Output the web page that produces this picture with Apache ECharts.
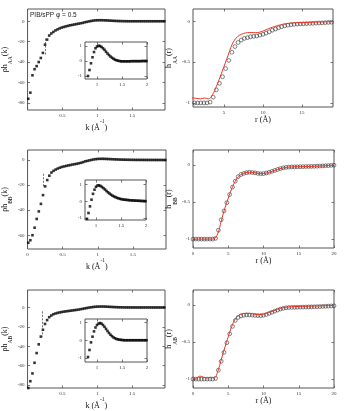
<!DOCTYPE html>
<html>
<head>
<meta charset="utf-8">
<script src="https://cdn.jsdelivr.net/npm/echarts@6/dist/echarts.min.js"></script>
<style>
  html, body { margin: 0; padding: 0; background: #fff; }
  #chart { width: 348px; height: 411px; }
</style>
</head>
<body>
<div id="chart"></div>
<script>
// k grid (1/Å) of the structure-factor panels
const kGrid = [0.01, 0.04, 0.07, 0.10, 0.13, 0.16, 0.19, 0.22, 0.25, 0.28, 0.31, 0.34, 0.37, 0.40, 0.43, 0.46, 0.49,
  0.52, 0.55, 0.58, 0.61, 0.64, 0.67, 0.70, 0.73, 0.76, 0.79, 0.82, 0.85, 0.88, 0.91, 0.94, 0.97, 1.00, 1.03, 1.06,
  1.09, 1.12, 1.15, 1.18, 1.21, 1.24, 1.27, 1.30, 1.33, 1.36, 1.39, 1.42, 1.45, 1.48, 1.51, 1.54, 1.57, 1.60, 1.63,
  1.66, 1.69, 1.72, 1.75, 1.78, 1.81, 1.84, 1.87, 1.90, 1.93, 1.96, 1.99];

const rhoAA = [-76, -70, -53, -47, -44, -40, -36, -31, -23, -18, -14, -12, -10.5, -9, -8, -7, -6.2, -5.6, -5, -4.5,
  -4, -3.6, -3.2, -2.8, -2.4, -2.0, -1.6, -1.0, -0.6, -0.15, 0.25, 0.6, 0.85, 0.97, 1.02, 1.0, 0.94, 0.85, 0.75,
  0.62, 0.5, 0.4, 0.3, 0.22, 0.15, 0.09, 0.05, 0.02, 0.0, -0.02, -0.02, -0.02, -0.02, -0.02, -0.02, -0.02, -0.01,
  -0.01, -0.01, -0.01, -0.01, -0.01, -0.01, 0, 0, 0, 0];

const rhoBB = [-66, -64, -60, -54, -47, -41, -35, -28, -21, -16, -12.5, -10, -8.6, -7.6, -6.8, -6.1, -5.5, -5.1,
  -4.7, -4.3, -4.0, -3.6, -3.3, -3.0, -2.6, -2.2, -1.7, -1.05, -0.7, -0.3, 0.1, 0.45, 0.7, 0.87, 0.95, 0.96, 0.92,
  0.86, 0.79, 0.71, 0.62, 0.54, 0.47, 0.4, 0.34, 0.29, 0.25, 0.21, 0.18, 0.15, 0.13, 0.11, 0.1, 0.09, 0.08, 0.07,
  0.06, 0.055, 0.05, 0.045, 0.04, 0.035, 0.03, 0.025, 0.02, 0.015, 0.01];

const rhoAB = [-83, -76, -68, -57, -47, -38, -30, -23, -17, -13, -10, -8.3, -7, -6.2, -5.6, -5.1, -4.7, -4.3, -4.0,
  -3.7, -3.4, -3.1, -2.8, -2.5, -2.2, -1.8, -1.4, -0.95, -0.55, -0.12, 0.2, 0.5, 0.72, 0.86, 0.94, 0.97, 0.94, 0.86,
  0.76, 0.64, 0.52, 0.41, 0.31, 0.23, 0.16, 0.11, 0.07, 0.05, 0.03, 0.02, 0.01, 0, 0, 0, 0, 0, 0, 0, 0, 0, 0, 0, 0,
  0, 0, 0, 0];

// dashed vertical markers [k, top, bottom]
const dashAA = [0.25, -17, -34];
const dashBB = [0.22, -11, -22];
const dashAB = [0.21, -4, -30];

// r grids (Å) of the pair-correlation panels
const rCircAA = [1.2, 1.6, 2.0, 2.4, 2.8, 3.2, 3.6, 4.0, 4.4, 4.8, 5.2, 5.6, 6.0, 6.4, 6.8, 7.2, 7.6, 8.0, 8.4, 8.8,
  9.2, 9.6, 10.0, 10.4, 10.8, 11.2, 11.6, 12.0, 12.4, 12.8, 13.2, 13.6, 14.0, 14.4, 14.8, 15.2, 15.6, 16.0, 16.4,
  16.8, 17.2, 17.6, 18.0, 18.4, 18.8];
const hCircAA = [-1.0, -1.0, -1.0, -1.0, -1.0, -0.99, -0.93, -0.84, -0.76, -0.68, -0.58, -0.48, -0.38, -0.31, -0.26,
  -0.23, -0.21, -0.2, -0.19, -0.185, -0.18, -0.17, -0.16, -0.145, -0.13, -0.11, -0.095, -0.08, -0.067, -0.056,
  -0.048, -0.042, -0.038, -0.035, -0.033, -0.031, -0.029, -0.027, -0.025, -0.023, -0.021, -0.019, -0.017, -0.014,
  -0.012];

const rCirc = [0, 0.4, 0.8, 1.2, 1.6, 2.0, 2.4, 2.8, 3.2, 3.6, 4.0, 4.4, 4.8, 5.2, 5.6, 6.0, 6.4, 6.8, 7.2, 7.6, 8.0,
  8.4, 8.8, 9.2, 9.6, 10.0, 10.4, 10.8, 11.2, 11.6, 12.0, 12.4, 12.8, 13.2, 13.6, 14.0, 14.4, 14.8, 15.2, 15.6, 16.0,
  16.4, 16.8, 17.2, 17.6, 18.0, 18.4, 18.8, 19.2, 19.6, 20.0];
const hCircBB = [-1.0, -1.0, -1.0, -1.0, -1.0, -1.0, -1.0, -1.0, -0.99, -0.88, -0.74, -0.62, -0.51, -0.4, -0.3, -0.22,
  -0.16, -0.13, -0.115, -0.105, -0.1, -0.102, -0.108, -0.115, -0.12, -0.118, -0.11, -0.1, -0.088, -0.075, -0.062,
  -0.05, -0.04, -0.034, -0.03, -0.028, -0.027, -0.026, -0.025, -0.024, -0.023, -0.022, -0.021, -0.02, -0.018,
  -0.016, -0.014, -0.012, -0.01, -0.007, -0.005];
const hCircAB = [-1.0, -1.0, -1.0, -1.0, -1.0, -1.0, -1.0, -1.0, -0.99, -0.88, -0.76, -0.64, -0.51, -0.39, -0.29,
  -0.21, -0.17, -0.15, -0.14, -0.135, -0.135, -0.138, -0.142, -0.145, -0.145, -0.14, -0.13, -0.115, -0.1, -0.085,
  -0.07, -0.057, -0.047, -0.04, -0.036, -0.034, -0.033, -0.032, -0.031, -0.03, -0.029, -0.028, -0.027, -0.026,
  -0.025, -0.023, -0.021, -0.019, -0.017, -0.015, -0.013];

const rLine = [0, 0.5, 1, 1.5, 2, 2.5, 3, 3.5, 4, 4.5, 5, 5.5, 6, 6.5, 7, 7.5, 8, 8.5, 9, 9.5, 10, 10.5, 11, 11.5,
  12, 12.5, 13, 13.5, 14, 14.5, 15, 15.5, 16, 16.5, 17, 17.5, 18, 18.5, 19, 19.5, 20];
const hLineAA = [-0.94, -0.94, -0.94, -0.945, -0.95, -0.94, -0.95, -0.9, -0.8, -0.68, -0.55, -0.42, -0.29, -0.21,
  -0.17, -0.15, -0.14, -0.138, -0.14, -0.135, -0.12, -0.1, -0.08, -0.065, -0.05, -0.038, -0.03, -0.024, -0.02,
  -0.018, -0.017, -0.015, -0.014, -0.012, -0.01, -0.009, -0.007, -0.006, -0.005, -0.004, -0.003];
const hLineBB = [-1.0, -1.0, -1.0, -1.0, -1.0, -1.0, -0.995, -0.93, -0.76, -0.59, -0.45, -0.32, -0.22, -0.155, -0.12,
  -0.105, -0.1, -0.103, -0.11, -0.118, -0.117, -0.108, -0.095, -0.078, -0.062, -0.048, -0.038, -0.031, -0.028,
  -0.026, -0.025, -0.024, -0.023, -0.022, -0.02, -0.018, -0.016, -0.013, -0.01, -0.007, -0.004];
const hLineAB = [-1.0, -0.985, -0.96, -0.975, -0.985, -0.975, -0.985, -0.9, -0.74, -0.58, -0.43, -0.29, -0.19, -0.14,
  -0.12, -0.115, -0.117, -0.122, -0.128, -0.13, -0.125, -0.11, -0.095, -0.078, -0.06, -0.045, -0.035, -0.028,
  -0.025, -0.023, -0.022, -0.021, -0.02, -0.018, -0.017, -0.015, -0.013, -0.012, -0.01, -0.009, -0.008];

const SERIF = 'Liberation Serif';
const FRAME = '#555';

const grids = [], xAxes = [], yAxes = [], series = [];

// one framed panel, with inward ticks mirrored on top and right
function addPanel(box, xr, xTicks, xLabels, yr, yTicks, yLabels, names) {
  const g = grids.length;
  grids.push({
    left: box[0], top: box[1], width: box[2], height: box[3],
    show: true, borderColor: FRAME, borderWidth: 1, backgroundColor: '#fff'
  });
  ['bottom', 'top'].forEach((pos, j) => xAxes.push({
    type: 'value', gridIndex: g, position: pos, min: xr[0], max: xr[1],
    axisLine: { show: false, onZero: false },
    axisTick: { show: true, inside: true, length: 2.5, customValues: xTicks, lineStyle: { color: FRAME, width: 0.8 } },
    axisLabel: { show: j === 0, customValues: xLabels, fontSize: 5, margin: 3, color: '#333', fontFamily: SERIF },
    splitLine: { show: false },
    name: j === 0 && names ? names.x : '',
    nameLocation: 'middle', nameGap: names ? names.xGap : 0,
    nameTextStyle: names ? names.xStyle : {}
  }));
  ['left', 'right'].forEach((pos, j) => yAxes.push({
    type: 'value', gridIndex: g, position: pos, min: yr[0], max: yr[1],
    axisLine: { show: false, onZero: false },
    axisTick: { show: true, inside: true, length: 2.5, customValues: yTicks, lineStyle: { color: FRAME, width: 0.8 } },
    axisLabel: { show: j === 0, customValues: yLabels, fontSize: 5, margin: 3, color: '#333', fontFamily: SERIF },
    splitLine: { show: false },
    name: j === 0 && names ? names.y : '',
    nameLocation: 'middle', nameGap: names ? names.yGap : 0,
    nameTextStyle: names ? names.yStyle : {}
  }));
  return { x: xAxes.length - 2, y: yAxes.length - 2 };
}

const nameRich = {
  n: { fontSize: 8, fontFamily: SERIF, color: '#111', lineHeight: 10, verticalAlign: 'top' },
  s: { fontSize: 5.5, fontFamily: SERIF, color: '#111', lineHeight: 13, verticalAlign: 'bottom' }
};
const supRich = {
  n: { fontSize: 8, fontFamily: SERIF, color: '#111', lineHeight: 10, verticalAlign: 'bottom' },
  p: { fontSize: 5.5, fontFamily: SERIF, color: '#111', lineHeight: 13, verticalAlign: 'top' }
};

function kNames(sub) {
  return {
    x: '{n|k (Å}{p|-1}{n|)}', xGap: 6, xStyle: { rich: supRich },
    y: '{n|ρh}{s|' + sub + '}{n|(k)}', yGap: 12, yStyle: { rich: nameRich }
  };
}
function rNames(sub) {
  return {
    x: '{n|r (Å)}', xGap: 6, xStyle: { rich: supRich },
    y: '{n|h}{s|' + sub + '}{n|(r)}', yGap: 10, yStyle: { rich: nameRich }
  };
}

function squares(ax, ys, dash) {
  const s = {
    type: 'scatter', xAxisIndex: ax.x, yAxisIndex: ax.y,
    data: kGrid.map((k, i) => [k, ys[i]]),
    symbol: 'rect', symbolSize: 2.6, itemStyle: { color: '#000' }, clip: true, silent: true
  };
  if (dash) {
    s.markLine = {
      silent: true, symbol: 'none', label: { show: false },
      lineStyle: { type: [2, 1.5], color: '#333', width: 0.7 },
      data: [[{ coord: [dash[0], dash[1]] }, { coord: [dash[0], dash[2]] }]]
    };
  }
  series.push(s);
}
function circlesAndLine(ax, rc, hc, hl) {
  series.push({
    type: 'line', xAxisIndex: ax.x, yAxisIndex: ax.y,
    data: rLine.map((r, i) => [r, hl[i]]),
    smooth: 0.4, showSymbol: false, lineStyle: { color: '#ee3322', width: 1 }, clip: true, silent: true
  });
  series.push({
    type: 'scatter', xAxisIndex: ax.x, yAxisIndex: ax.y,
    data: rc.map((r, i) => [r, hc[i]]),
    symbol: 'circle', symbolSize: 3.8,
    itemStyle: { color: 'rgba(255,255,255,0)', borderColor: '#222', borderWidth: 0.7 }, clip: true, silent: true
  });
}

// left column: rho h(k) with insets
const kLab = [0.5, 1, 1.5];
const kTick = [0, 0.5, 1, 1.5];
const insX = [1, 1.5, 2];
const insY = [-1, 0, 1];

const tl = addPanel([24, 9, 141, 101], [0, 1.97], kTick, kLab, [-87, 12], [-80, -60, -40, -20, 0], [-80, -60, -40, -20, 0], kNames('AA'));
squares(tl, rhoAA, dashAA);
const ml = addPanel([24, 150, 142, 99], [0, 1.97], kTick, [0, 0.5, 1, 1.5], [-71, 8], [-60, -40, -20, 0], [-60, -40, -20, 0], kNames('BB'));
squares(ml, rhoBB, dashBB);
const bl = addPanel([24, 290, 141, 98], [0, 1.97], kTick, kLab, [-83, 18], [-80, -60, -40, -20, 0], [-80, -60, -40, -20, 0], kNames('AB'));
squares(bl, rhoAB, dashAB);

const tli = addPanel([85, 42, 62, 37], [0.76, 2], insX, insX, [-1.2, 1.27], insY, insY, null);
squares(tli, rhoAA, null);
const mli = addPanel([85, 180, 61, 40], [0.78, 2], insX, insX, [-1.12, 1.28], insY, insY, null);
squares(mli, rhoBB, null);
const bli = addPanel([85, 319, 62, 43], [0.76, 2], insX, insX, [-1.23, 1.2], insY, insY, null);
squares(bli, rhoAB, null);

// right column: h(r)
const rTick = [0, 5, 10, 15, 20];
const hTick = [-1, -0.5, 0];
const tr = addPanel([193, 9, 140, 98], [1, 19], [5, 10, 15], [5, 10, 15], [-1.05, 0.15], hTick, hTick, rNames('AA'));
circlesAndLine(tr, rCircAA, hCircAA, hLineAA);
const mr = addPanel([193, 150, 141, 98], [0, 20], rTick, rTick, [-1.12, 0.2], hTick, hTick, rNames('BB'));
circlesAndLine(mr, rCirc, hCircBB, hLineBB);
const br = addPanel([193, 290, 141, 98], [0, 20], rTick, rTick, [-1.12, 0.2], hTick, hTick, rNames('AB'));
circlesAndLine(br, rCirc, hCircAB, hLineAB);

const chart = echarts.init(document.getElementById('chart'), null, { renderer: 'canvas' });
chart.setOption({
  animation: false,
  backgroundColor: '#fff',
  grid: grids,
  xAxis: xAxes,
  yAxis: yAxes,
  series: series,
  graphic: [{
    type: 'text', left: 30, top: 12,
    style: { text: 'PIB/sPP φ = 0.5', fontSize: 6.5, fontFamily: 'Liberation Sans', fill: '#222' }
  }]
});
</script>
</body>
</html>
